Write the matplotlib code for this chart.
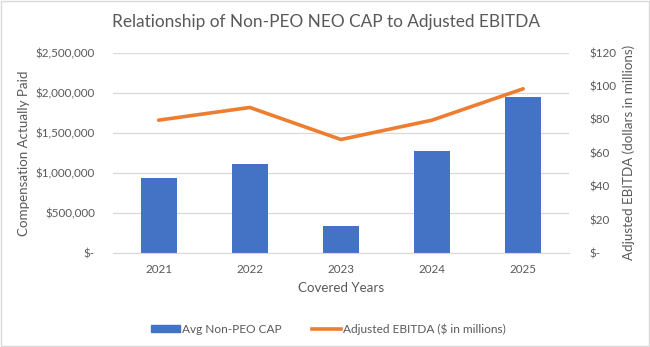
import matplotlib.pyplot as plt
import numpy as np
from matplotlib.patches import Rectangle
from matplotlib.lines import Line2D

plt.rcParams['font.family'] = ['Lato', 'DejaVu Sans']

years = ['2021', '2022', '2023', '2024', '2025']
avg_cap = [942000, 1108000, 338000, 1267000, 1942000]
ebitda = [79.6, 87.2, 68.0, 79.6, 98.4]

grey = '#595959'
fig = plt.figure(figsize=(6.5, 3.47), dpi=100)
ax = fig.add_axes([0.174, 0.271, 0.701, 0.577])
ax2 = ax.twinx()

x = np.arange(len(years))
ax.bar(x, avg_cap, width=0.395, color='#4472C4', zorder=2)
ax2.plot(x, ebitda, color='#ED7D31', lw=2.6, solid_capstyle='round', zorder=3)

ax.set_xlim(-0.5, 4.5)
ax.set_ylim(0, 2500000)
ax2.set_ylim(0, 120)
ax.set_yticks(np.arange(0, 2500001, 500000))
ax2.set_yticks(np.arange(0, 121, 20))
ax.set_yticklabels(['$-'] + ['${:,.0f}'.format(v) for v in np.arange(500000, 2500001, 500000)])
ax2.set_yticklabels(['$-'] + ['${}'.format(v) for v in range(20, 121, 20)])
ax.set_xticks(x)
ax.set_xticklabels(years)

ax.grid(axis='y', color='#d9d9d9', lw=0.9, zorder=0)
for a in (ax, ax2):
    for s in a.spines.values():
        s.set_visible(False)
    a.tick_params(length=0, colors=grey, labelsize=8.4)
ax.spines['bottom'].set_visible(True)
ax.spines['bottom'].set_color('#d9d9d9')
ax.tick_params(axis='y', pad=13)
ax2.tick_params(axis='y', pad=15)
ax.tick_params(axis='x', pad=8)

ax.set_ylabel('Compensation Actually Paid', color=grey, fontsize=9.6, labelpad=4)
ax2.set_ylabel('Adjusted EBITDA (dollars in millions)', color=grey, fontsize=9.6, labelpad=4)
ax.set_xlabel('Covered Years', color=grey, fontsize=9.6, labelpad=5)
fig.text(0.502, 0.937, 'Relationship of Non-PEO NEO CAP to Adjusted EBITDA',
         ha='center', va='center', color=grey, fontsize=12.4)

handles = [Rectangle((0, 0), 1, 1, color='#4472C4'),
           Line2D([], [], color='#ED7D31', lw=2.6)]
fig.legend(handles, ['Avg Non-PEO CAP', 'Adjusted EBITDA ($ in millions)'],
           loc='center', bbox_to_anchor=(0.505, 0.052), ncol=2, frameon=False,
           fontsize=8.6, labelcolor=grey, handlelength=2.4, handleheight=0.5,
           columnspacing=2.6, handletextpad=0.15)

fig.patches.append(Rectangle((0.001, 0.002), 0.997, 0.995, transform=fig.transFigure,
                             fill=False, edgecolor='#d9d9d9', lw=1))

fig.savefig('out.png', dpi=100)
